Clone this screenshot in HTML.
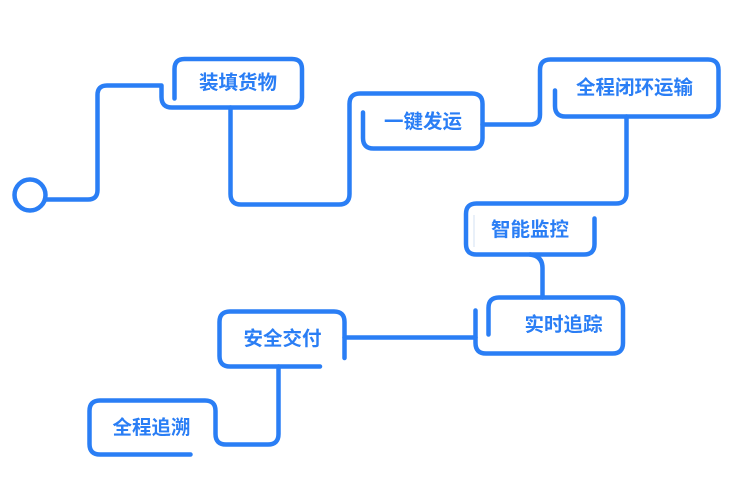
<!DOCTYPE html>
<html>
<head>
<meta charset="utf-8">
<style>
  html,body{margin:0;padding:0;background:#ffffff;}
  svg{display:block;}
  text{font-family:"Liberation Sans","Noto Sans CJK SC",sans-serif;font-weight:bold;font-size:19.5px;fill:#2a7ef5;}
</style>
</head>
<body>
<svg width="750" height="496" viewBox="0 0 750 496" xmlns="http://www.w3.org/2000/svg">
  <g fill="none" stroke="#2a7ef5" stroke-width="4.5" stroke-linecap="round" stroke-linejoin="round">
    <!-- start circle -->
    <circle cx="30" cy="195" r="15.5" fill="#ffffff"/>
    <!-- circle -> box1 -->
    <path d="M46,199.5 H88 Q97.5,199.5 97.5,190 V95 Q97.5,85.5 107,85.5 H161.5 V97 Q161.5,107.5 172,107.5 H292 Q302,107.5 302,97.5 V69 Q302,59 292,59 H184.5 Q174.5,59 174.5,69 V98.5"/>
    <!-- box1 -> box2 -->
    <path d="M230.5,107.5 V194 Q230.5,204.5 241,204.5 H339 Q349.5,204.5 349.5,194 V104 Q349.5,93.5 360,93.5 H472 Q482.5,93.5 482.5,104 V138 Q482.5,148.5 472,148.5 H373.5 Q363,148.5 363,138 V112.5"/>
    <!-- box2 -> box3 -->
    <path d="M482.5,124.5 H530 Q540,124.5 540,114.5 V70 Q540,59.5 550.5,59.5 H708 Q718.5,59.5 718.5,70 V106 Q718.5,116.5 708,116.5 H565.5 Q555,116.5 555,106 V90.5"/>
    <!-- box3 -> box4 -->
    <path d="M626.5,116.5 V193 Q626.5,203.5 616,203.5 H476.5 Q466,203.5 466,214 V244 Q466,254.5 476.5,254.5 H584 Q594.5,254.5 594.5,244 V218.5"/>
    <!-- box4 -> box5 -->
    <path d="M530,254.5 Q542.5,256 542.5,268 V297.5"/>
    <!-- box5 -->
    <path d="M475.5,310.5 V343 Q475.5,353.5 486,353.5 H612.5 Q623,353.5 623,343 V308 Q623,297.5 612.5,297.5 H499 Q488.5,297.5 488.5,308 V334.5"/>
    <!-- box6 -> box5 -->
    <path d="M344.5,337.5 H475.5"/>
    <!-- box6 -->
    <path d="M344.5,358 V322 Q344.5,311.5 334,311.5 H230 Q219.5,311.5 219.5,322 V356 Q219.5,366.5 230,366.5 H320"/>
    <!-- box6 -> box7 -->
    <path d="M278.5,366.5 V434 Q278.5,444.5 268,444.5 H226 Q215.5,444.5 215.5,434 V411 Q215.5,400.5 205,400.5 H100 Q89.5,400.5 89.5,411 V444 Q89.5,454.5 100,454.5 H190.5"/>
  </g>
  <!-- faint inner line in box4 -->
  <line x1="474" y1="215" x2="474" y2="247" stroke="#d3e0f3" stroke-width="1"/>

  <g text-anchor="middle" dominant-baseline="central">
    <text x="238" y="83">装填货物</text>
    <text x="423" y="122">一键发运</text>
    <text x="634.5" y="88">全程闭环运输</text>
    <text x="530" y="230">智能监控</text>
    <text x="563.5" y="325">实时追踪</text>
    <text x="282.5" y="339">安全交付</text>
    <text x="151.5" y="428">全程追溯</text>
  </g>
</svg>
</body>
</html>
